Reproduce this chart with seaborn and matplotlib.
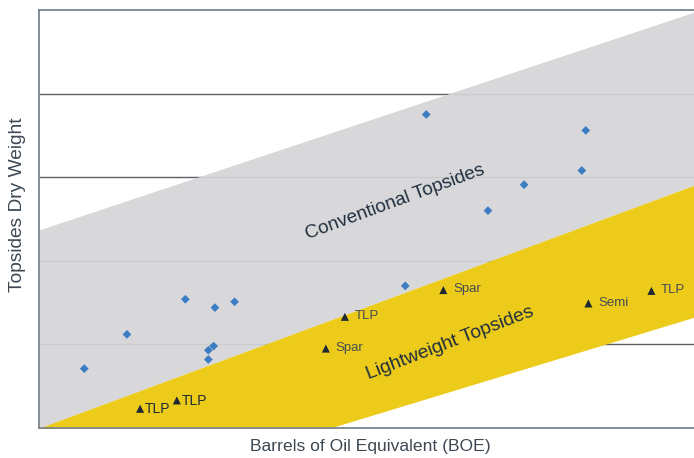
import matplotlib
matplotlib.use("Agg")
import matplotlib.pyplot as plt
import seaborn as sns
import numpy as np
import pandas as pd

# ---- data (arbitrary units: x 0-100 BOE, y 0-5 weight) ----
conv_x = [6.9, 13.4, 22.3, 26.8, 29.8, 26.6, 25.8, 25.8, 55.8, 59.0, 68.4, 73.9, 82.7, 83.3]
conv_y = [0.71, 1.12, 1.54, 1.44, 1.51, 0.98, 0.93, 0.82, 1.70, 3.75, 2.60, 2.91, 3.08, 3.56]

light_x = [15.4, 21.0, 43.7, 46.6, 61.6, 83.7, 93.3]
light_y = [0.23, 0.33, 0.95, 1.33, 1.65, 1.49, 1.64]
light_labels = ["TLP", "TLP", "Spar", "TLP", "Spar", "Semi", "TLP"]

band_x = [0, 100]
conv_upper = [2.37, 4.98]
light_upper = [0.0, 2.91]
light_lower = [-1.06, 1.33]

grid_y = [1, 2, 3, 4]

sns.set_theme(style="white")
plt.rcParams['font.family'] = ['Liberation Sans', 'DejaVu Sans']

fig = plt.figure(figsize=(6.94, 4.58), dpi=100)
ax = fig.add_axes([39/694, 30/458, 1 - 39/694 + 0.002, 418/458])

ax.set_xlim(0, 100)
ax.set_ylim(0, 5)

for gy in grid_y:
    ax.axhline(gy, color="#5a6068", lw=1.0, zorder=1)

ax.fill_between(band_x, light_upper, conv_upper, color="#d5d5d8", alpha=0.93, lw=0, zorder=2)
ax.fill_between(band_x, light_lower, light_upper, color="#edcb1b", lw=0, zorder=3)

df_c = pd.DataFrame({"x": conv_x, "y": conv_y})
df_l = pd.DataFrame({"x": light_x, "y": light_y, "lab": light_labels})

sns.scatterplot(data=df_c, x="x", y="y", marker="D", s=20, color="#3b7dc4",
                edgecolor="none", ax=ax, zorder=5)
sns.scatterplot(data=df_l, x="x", y="y", marker="^", s=34, color="#1e2934",
                edgecolor="none", ax=ax, zorder=5)

for i, (x, y, lab) in enumerate(zip(light_x, light_y, light_labels)):
    if i < 2:
        ax.annotate(lab, (x, y), xytext=(3.5, -0.5), textcoords="offset points",
                    va="center", ha="left", fontsize=10, color="#1e2934", zorder=6)
    else:
        ax.annotate(lab, (x, y), xytext=(7, 0.5), textcoords="offset points",
                    va="center", ha="left", fontsize=9.5, color="#454d55", zorder=6)

ax.text(54.2, 2.70, "Conventional Topsides", rotation=20.2, rotation_mode="anchor",
        ha="center", va="center", fontsize=13.7, color="#1f2e3e", zorder=6)
ax.text(62.7, 1.02, "Lightweight Topsides", rotation=21, rotation_mode="anchor",
        ha="center", va="center", fontsize=13.9, color="#1f2e3e", zorder=6)

ax.set_xticks([])
ax.set_yticks([])
ax.set_xlabel("Barrels of Oil Equivalent (BOE)", fontsize=12.6, color="#3d4852")
ax.set_ylabel("Topsides Dry Weight", fontsize=13.8, color="#3d4852")
ax.xaxis.set_label_coords((370 - 39) / 655, -(447 - 428) / 418)
ax.yaxis.set_label_coords((18 - 39) / 655, (428 - 205) / 418)
ax.xaxis.label.set_va("center")
ax.yaxis.label.set_va("center")

for side in ["top", "left", "bottom"]:
    ax.spines[side].set_color("#7d868e")
    ax.spines[side].set_linewidth(1.3)
    ax.spines[side].set_zorder(7)
ax.spines["right"].set_visible(False)

fig.savefig("out.png", dpi=100)
